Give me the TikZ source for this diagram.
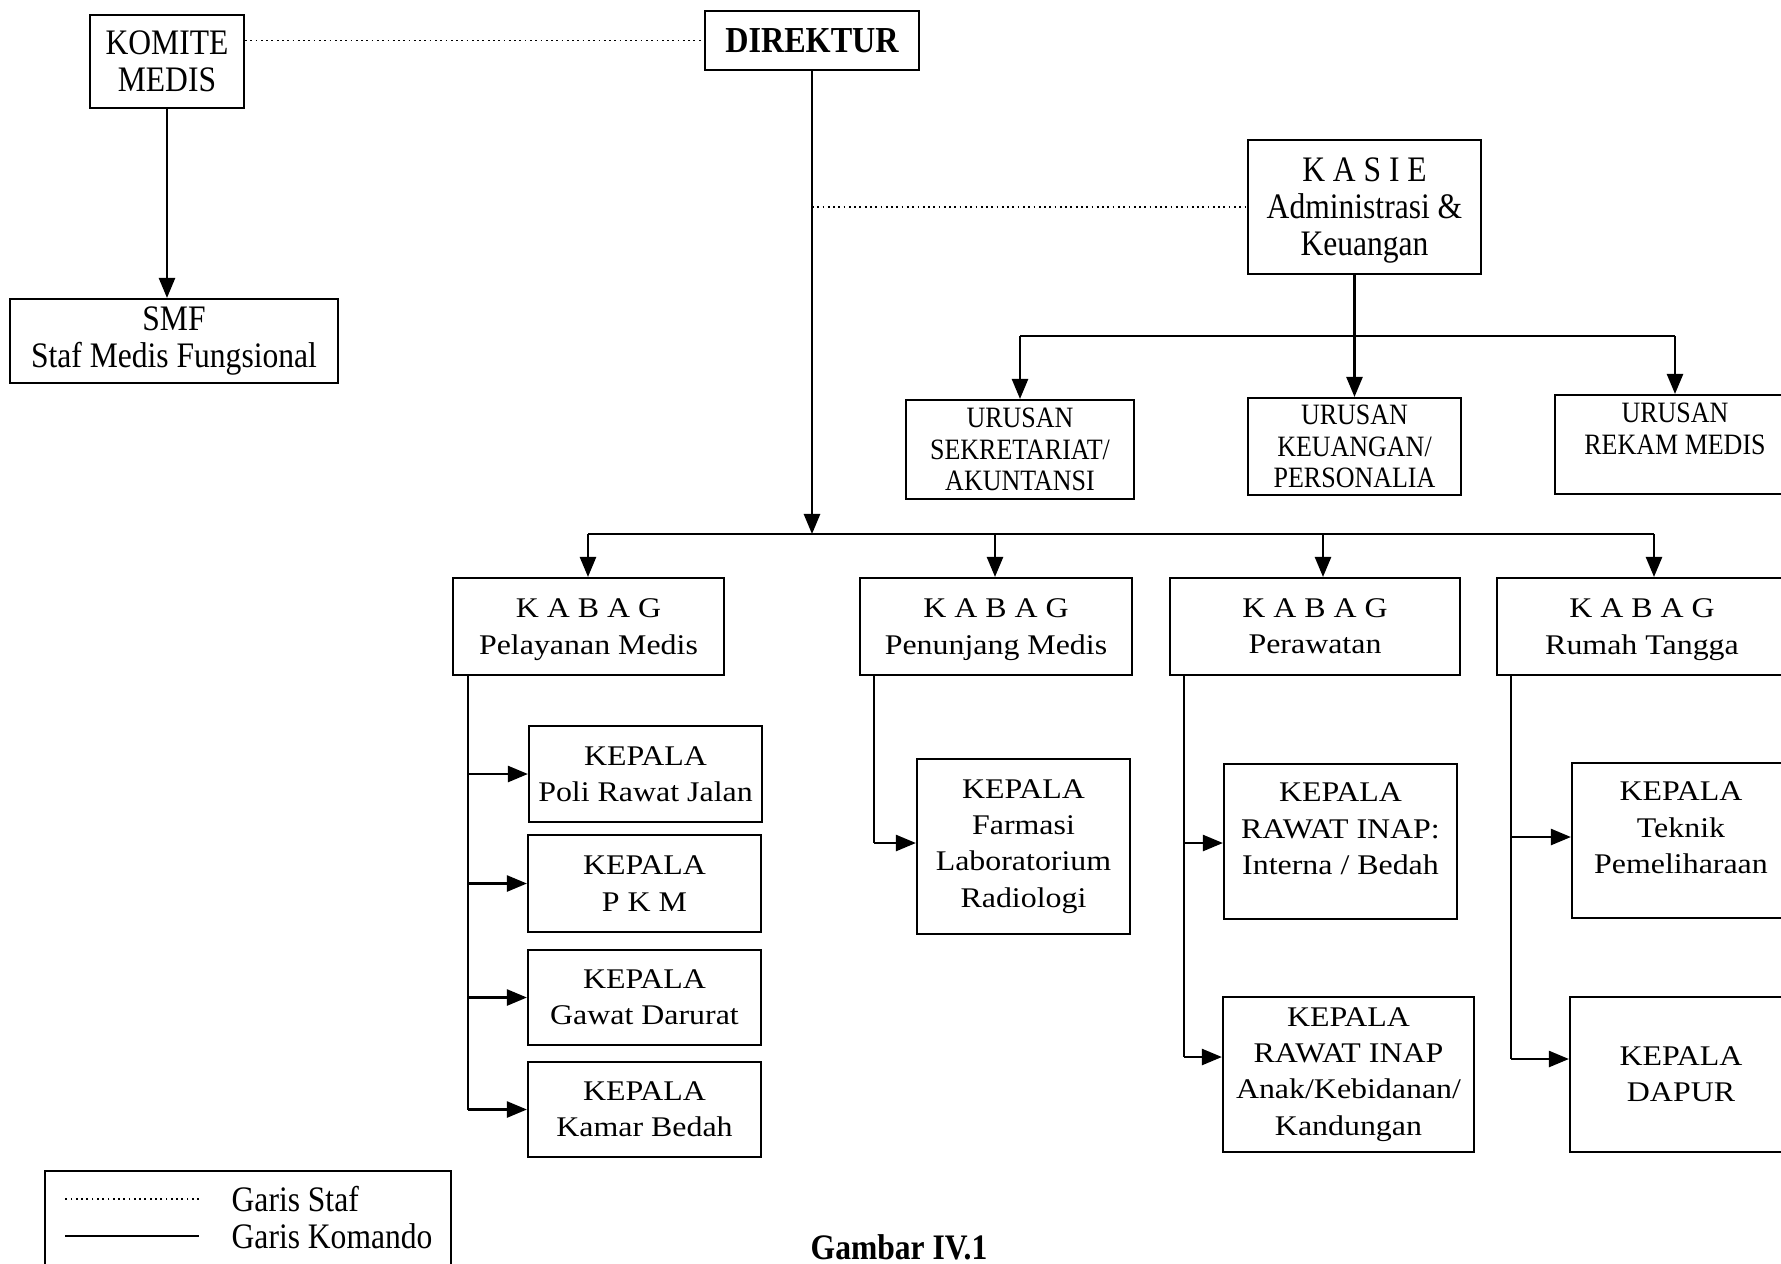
\documentclass[tikz,border=0pt]{standalone}
\usepackage{fontspec}
\setmainfont{Liberation Serif}[FakeStretch=1.12]
\newfontfamily\narrowfont{Liberation Serif}[FakeStretch=0.88]
\usepackage{tikz}
\usetikzlibrary{positioning,arrows.meta}
\newcommand{\nodepth}[1]{\raisebox{0pt}[\height][0pt]{#1}}

\begin{document}
\begin{tikzpicture}[x=0.01cm, y=-0.01cm,
    box/.style={draw, line width=0.6pt, align=center, inner sep=1pt},
    wide/.style={box, font=\fontsize{8.1}{10.3}\selectfont},
    narrow/.style={box, font=\narrowfont\fontsize{10.2}{10.5}\selectfont},
    urusan/.style={box, font=\narrowfont\fontsize{8.4}{8.9}\selectfont},
    komando/.style={line width=0.6pt},
    panah/.style={komando, -{Triangle[length=5.7pt,width=4.6pt]}},
    staf/.style={line width=0.5pt, densely dotted}]

  \useasboundingbox (0,0) rectangle (1781,1263);

  % Pimpinan
  \node[narrow, minimum width=1.54cm, minimum height=0.93cm] (komite) at (167,61.5) {KOMITE\\MEDIS};
  \node[box, font=\narrowfont\bfseries\fontsize{10.4}{11}\selectfont, minimum width=2.14cm, minimum height=0.59cm] (dir) at (812,40.5) {DIREKTUR};
  \node[narrow, minimum width=3.28cm, minimum height=0.84cm] (smf) at (174,341) {SMF\\Staf Medis Fungsional};
  \node[narrow, minimum width=2.33cm, minimum height=1.34cm] (kasie) at (1364.5,207) {K A S I E\\Administrasi \&\\\nodepth{Keuangan}};

  % Urusan
  \node[urusan, minimum width=2.28cm, minimum height=0.99cm] (ur1) at (1020,449.5) {URUSAN\\SEKRETARIAT/\\AKUNTANSI};
  \node[urusan, minimum width=2.13cm, minimum height=0.97cm] (ur2) at (1354.5,446.5) {URUSAN\\KEUANGAN/\\PERSONALIA};
  \node[urusan, minimum width=2.40cm, minimum height=0.99cm] (ur3) at (1675,444.5) {URUSAN\\REKAM MEDIS\\\mbox{}};

  % Kabag
  \node[wide, minimum width=2.71cm, minimum height=0.97cm] (kb1) at (588.5,626.5) {K A B A G\\\nodepth{Pelayanan Medis}};
  \node[wide, minimum width=2.72cm, minimum height=0.97cm] (kb2) at (996,626.5) {K A B A G\\\nodepth{Penunjang Medis}};
  \node[wide, minimum width=2.90cm, minimum height=0.97cm] (kb3) at (1315,626.5) {K A B A G\\Perawatan};
  \node[wide, minimum width=2.90cm, minimum height=0.97cm] (kb4) at (1642,626.5) {K A B A G\\\nodepth{Rumah Tangga}};

  % Kepala
  \node[wide, minimum width=2.33cm, minimum height=0.96cm] (kp1) at (645.5,774) {KEPALA\\Poli Rawat Jalan};
  \node[wide, minimum width=2.33cm, minimum height=0.97cm] (kp2) at (644.5,883.5) {KEPALA\\P K M};
  \node[wide, minimum width=2.33cm, minimum height=0.95cm] (kp3) at (644.5,997.5) {KEPALA\\Gawat Darurat};
  \node[wide, minimum width=2.33cm, minimum height=0.95cm] (kp4) at (644.5,1109.5) {KEPALA\\Kamar Bedah};
  \node[wide, minimum width=2.13cm, minimum height=1.75cm] (kf) at (1023.5,846.5) {KEPALA\\Farmasi\\Laboratorium\\Radiologi};
  \node[wide, minimum width=2.33cm, minimum height=1.55cm] (ri1) at (1340.5,841.5) {KEPALA\\RAWAT INAP:\\Interna / Bedah\\[-3pt]\mbox{}};
  \node[wide, minimum width=2.51cm, minimum height=1.55cm] (ri2) at (1348.5,1074.5) {KEPALA\\RAWAT INAP\\Anak/Kebidanan/\\Kandungan};
  \node[wide, minimum width=2.18cm, minimum height=1.55cm] (rt1) at (1681,840.5) {KEPALA\\Teknik\\Pemeliharaan\\[-3pt]\mbox{}};
  \node[wide, minimum width=2.22cm, minimum height=1.55cm] (rt2) at (1681,1074.5) {KEPALA\\DAPUR};

  % Garis staf
  \draw[staf] (komite.east |- dir.west) -- (dir.west);
  \draw[staf] (dir.south |- kasie.west) -- (kasie.west);

  % Garis komando
  \draw[panah] (komite.south) -- (komite.south |- smf.north);
  \coordinate (busd) at (812,534);
  \coordinate (bus1) at (588,534);
  \coordinate (bus2) at (995,534);
  \coordinate (bus3) at (1323,534);
  \coordinate (bus4) at (1654,534);
  \draw[panah] (dir.south) -- (busd);
  \draw[komando] (bus1) -- (bus4);
  \foreach \b/\k in {bus1/kb1, bus2/kb2, bus3/kb3, bus4/kb4}
    \draw[panah] (\b) -- (\b |- \k.north);

  % Kasie ke urusan
  \coordinate (ubus) at (1353,336);
  \draw[panah] (ur2.north |- kasie.south) -- (ur2.north);
  \draw[komando] (ur1.north |- ubus) -- (ur3.north |- ubus);
  \foreach \u in {ur1, ur3}
    \draw[panah] (\u.north |- ubus) -- (\u.north);

  % Kabag ke kepala
  \coordinate (s1) at ([xshift=0.16cm]kb1.south west);
  \coordinate (s2) at ([xshift=0.15cm]kb2.south west);
  \coordinate (s3) at ([xshift=0.15cm]kb3.south west);
  \coordinate (s4) at ([xshift=0.15cm]kb4.south west);
  \draw[komando] (s1) -- (s1 |- kp4.west);
  \foreach \k in {kp1, kp2, kp3, kp4}
    \draw[panah] (s1 |- \k.west) -- (\k.west);
  \draw[komando] (s2) -- (s2 |- 0,843);
  \draw[panah] (s2 |- 0,843) -- (kf.west |- 0,843);
  \draw[komando] (s3) -- (s3 |- 0,1057);
  \draw[panah] (s3 |- 0,843) -- (ri1.west |- 0,843);
  \draw[panah] (s3 |- 0,1057) -- (ri2.west |- 0,1057);
  \draw[komando] (s4) -- (s4 |- 0,1059);
  \draw[panah] (s4 |- 0,837) -- (rt1.west |- 0,837);
  \draw[panah] (s4 |- 0,1059) -- (rt2.west |- 0,1059);

  % Legenda
  \draw[komando] (45,1300) |- (451,1171) -- (451,1300);
  \node[anchor=west, inner sep=0, font=\narrowfont\fontsize{10.2}{11}\selectfont] (lg1) at (231,1199) {Garis Staf};
  \node[anchor=west, inner sep=0, font=\narrowfont\fontsize{10.2}{11}\selectfont] (lg2) at (231,1236) {Garis Komando};
  \draw[staf] ([xshift=-0.32cm]lg1.west) -- ++(-134,0);
  \draw[komando] ([xshift=-0.32cm]lg2.west) -- ++(-134,0);

  \node[anchor=south west, inner sep=0, font=\narrowfont\bfseries\fontsize{10.2}{11}\selectfont] (cap) at (810,1261) {Gambar IV.1};
\end{tikzpicture}
\end{document}
